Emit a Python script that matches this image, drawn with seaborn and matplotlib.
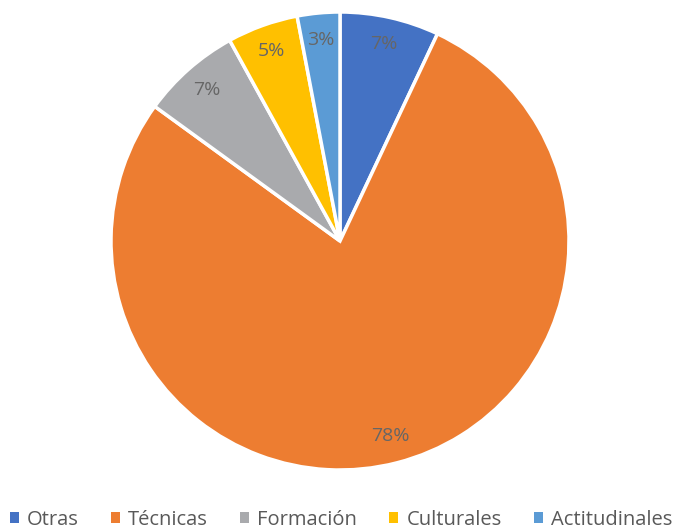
import matplotlib
matplotlib.use("Agg")
import matplotlib.pyplot as plt
import seaborn as sns
from matplotlib.patches import Patch

categories = ["Otras", "Técnicas", "Formación", "Culturales", "Actitudinales"]
values = [7, 78, 7, 5, 3]
colors = ["#4472C4", "#ED7D31", "#A9AAAD", "#FFC000", "#5B9BD5"]

sns.set_theme(style="white")
plt.rcParams['font.family'] = ['Open Sans', 'DejaVu Sans']
palette = sns.color_palette(colors)

fig = plt.figure(figsize=(6.82, 5.31), dpi=100)
ax = fig.add_axes([111/682, 61/531, 458/682, 458/531])
wedges, texts, autotexts = ax.pie(
    values, colors=palette, startangle=90, counterclock=False,
    autopct=lambda p: f"{p:.0f}%", pctdistance=0.88,
    wedgeprops=dict(edgecolor="white", linewidth=2.5),
    textprops=dict(color="#666666", fontsize=14),
)
ax.set_xlim(-1, 1)
ax.set_ylim(-1, 1)
ax.set_aspect("equal")

handles = [Patch(facecolor=c, edgecolor="none") for c in palette]
fig.legend(handles, categories, loc="center", bbox_to_anchor=(0.5, 11/531),
           ncol=5, frameon=False, fontsize=14.5, labelcolor="#595959",
           handlelength=0.45, handleheight=0.45, handletextpad=0.4, columnspacing=1.6)

fig.savefig("out.png", dpi=100)
